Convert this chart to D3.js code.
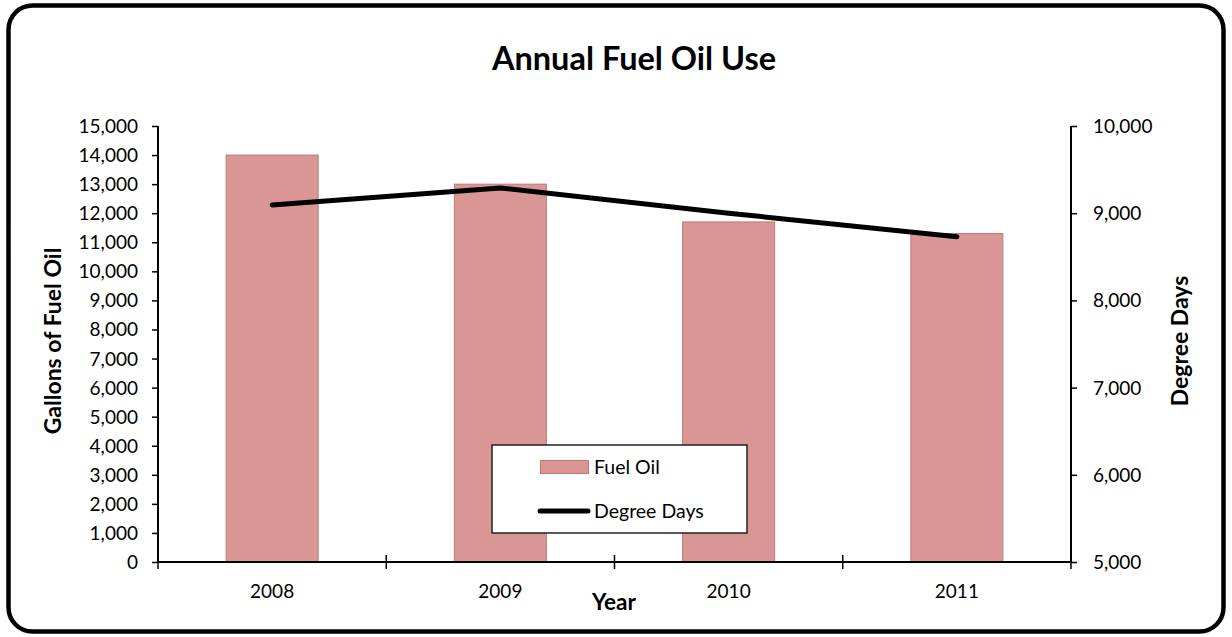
<!DOCTYPE html>
<html>
<head>
<meta charset="utf-8">
<script src="https://cdn.jsdelivr.net/npm/d3@7"></script>
<style>
  html, body { margin: 0; padding: 0; background: #fff; }
  svg { display: block; }
  text { font-family: Lato, "Open Sans", sans-serif; fill: #000; }
</style>
</head>
<body>
<svg id="chart" width="1232" height="637"></svg>
<script>
// Annual fuel oil consumption against heating degree days
const years = ["2008", "2009", "2010", "2011"];
const fuelOil = [14000, 13000, 11700, 11300];
const degreeDays = [9095, 9290, 9000, 8730];
const leftTicks = d3.range(0, 15001, 1000);
const rightTicks = d3.range(5000, 10001, 1000);

const svg = d3.select("#chart");
const W = 1232, H = 637;
const plot = { left: 158, right: 1071, top: 126, bottom: 562 };
const tickFont = 19;

// outer rounded frame
svg.append("rect")
  .attr("x", 8.5).attr("y", 5.5)
  .attr("width", W - 17).attr("height", H - 11)
  .attr("rx", 24).attr("ry", 24)
  .attr("fill", "#fff").attr("stroke", "#000").attr("stroke-width", 4.5);

const xPos = d3.scalePoint().domain(years).range([plot.left, plot.right]).padding(0.5);
const yL = d3.scaleLinear().domain([0, 15000]).range([plot.bottom, plot.top]);
const yR = d3.scaleLinear().domain([5000, 10000]).range([plot.bottom, plot.top]);
const fmt = d3.format(",");
const barW = 92;

// bars
svg.append("g").selectAll("rect")
  .data(years.map((y, i) => ({ year: y, v: fuelOil[i] })))
  .join("rect")
  .attr("x", d => xPos(d.year) - barW / 2)
  .attr("width", barW)
  .attr("y", d => yL(d.v))
  .attr("height", d => plot.bottom - yL(d.v))
  .attr("fill", "#d99694")
  .attr("stroke", "#c27877")
  .attr("stroke-width", 1);

// left axis
const gL = svg.append("g").attr("transform", `translate(${plot.left},0)`)
  .call(d3.axisLeft(yL).tickValues(leftTicks).tickFormat(fmt).tickSize(6).tickPadding(14));
// right axis
const gR = svg.append("g").attr("transform", `translate(${plot.right},0)`)
  .call(d3.axisRight(yR).tickValues(rightTicks).tickFormat(fmt).tickSize(6).tickPadding(16));
[gL, gR].forEach(g => {
  g.select(".domain").attr("stroke", "#000").attr("stroke-width", 2)
    .attr("d", `M0,${plot.top}V${plot.bottom}`);
  g.selectAll(".tick line").attr("stroke", "#000").attr("stroke-width", 1.5);
  g.selectAll(".tick text").attr("font-size", tickFont).attr("font-family", "Lato, sans-serif").attr("dy", "0.34em");
});

// x axis with crossing tick marks at category boundaries
const gX = svg.append("g");
gX.append("line").attr("x1", plot.left).attr("x2", plot.right)
  .attr("y1", plot.bottom).attr("y2", plot.bottom)
  .attr("stroke", "#000").attr("stroke-width", 2);
const step = (plot.right - plot.left) / years.length;
gX.selectAll("line.tk").data(d3.range(years.length + 1)).join("line")
  .attr("class", "tk")
  .attr("x1", i => plot.left + i * step).attr("x2", i => plot.left + i * step)
  .attr("y1", plot.bottom - 7).attr("y2", plot.bottom + 7)
  .attr("stroke", "#000").attr("stroke-width", 1.5);
gX.selectAll("text").data(years).join("text")
  .attr("x", d => xPos(d)).attr("y", 598)
  .attr("text-anchor", "middle").attr("font-size", tickFont)
  .text(d => d);

// degree days line
const line = d3.line().x((d, i) => xPos(years[i])).y(d => yR(d));
svg.append("path").datum(degreeDays)
  .attr("d", line)
  .attr("fill", "none").attr("stroke", "#000")
  .attr("stroke-width", 5).attr("stroke-linecap", "round").attr("stroke-linejoin", "round");

// titles
svg.append("text").attr("x", 634).attr("y", 70).attr("text-anchor", "middle")
  .attr("font-size", 32.5).attr("font-weight", "bold").text("Annual Fuel Oil Use");
svg.append("text").attr("x", 614).attr("y", 610).attr("text-anchor", "middle")
  .attr("font-size", 22.5).attr("font-weight", "bold").text("Year");
svg.append("text").attr("transform", "translate(61,341) rotate(-90)").attr("text-anchor", "middle")
  .attr("font-size", 23).attr("font-weight", "bold").text("Gallons of Fuel Oil");
svg.append("text").attr("transform", "translate(1188,341) rotate(-90)").attr("text-anchor", "middle")
  .attr("font-size", 23).attr("font-weight", "bold").text("Degree Days");

// legend
const lg = svg.append("g");
lg.append("rect").attr("x", 492).attr("y", 445).attr("width", 255).attr("height", 88)
  .attr("fill", "#fff").attr("stroke", "#222").attr("stroke-width", 1.5);
lg.append("rect").attr("x", 540.5).attr("y", 460.5).attr("width", 48).attr("height", 13)
  .attr("fill", "#d99694").attr("stroke", "#c27877").attr("stroke-width", 1);
lg.append("text").attr("x", 594).attr("y", 474).attr("font-size", 19.5).text("Fuel Oil");
lg.append("line").attr("x1", 540).attr("x2", 588).attr("y1", 511).attr("y2", 511)
  .attr("stroke", "#000").attr("stroke-width", 5).attr("stroke-linecap", "round");
lg.append("text").attr("x", 594).attr("y", 518).attr("font-size", 19.5).text("Degree Days");
</script>
</body>
</html>
